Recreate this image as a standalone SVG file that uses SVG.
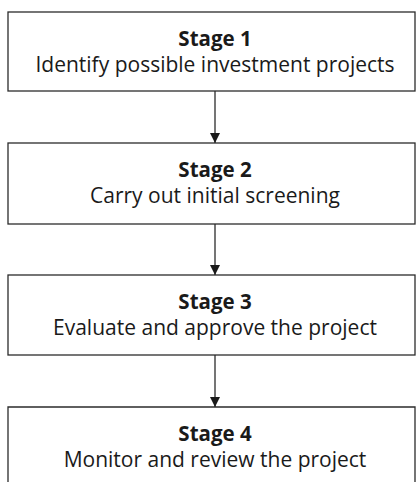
<svg xmlns="http://www.w3.org/2000/svg" width="417" height="482" viewBox="0 0 417 482">
  <style>
    .box { fill: #ffffff; stroke: #2b2b2b; stroke-width: 1.3; }
    .title { font-family: "Open Sans", "Noto Sans", sans-serif; font-size: 20.5px; font-weight: bold; fill: #1a1a1a; text-anchor: middle; }
    .desc { font-family: "Open Sans", "Noto Sans", sans-serif; font-size: 21px; fill: #1a1a1a; text-anchor: middle; }
    .link { stroke: #2b2b2b; stroke-width: 1.3; fill: none; }
  </style>
  <defs>
    <marker id="arrow" viewBox="0 0 10 10" refX="10" refY="5" markerWidth="10" markerHeight="10" markerUnits="userSpaceOnUse" orient="auto">
      <path d="M0,0 L10,5 L0,10 Z" fill="#1a1a1a"/>
    </marker>
  </defs>
  <rect width="417" height="482" fill="#ffffff"/>

  <g id="stage1">
    <rect class="box" x="8" y="12" width="407" height="79"/>
    <text class="title" x="215" y="46">Stage 1</text>
    <text class="desc" x="215" y="72">Identify possible investment projects</text>
  </g>

  <g id="stage2">
    <rect class="box" x="8" y="143" width="407" height="81"/>
    <text class="title" x="215" y="177">Stage 2</text>
    <text class="desc" x="215" y="203">Carry out initial screening</text>
  </g>

  <g id="stage3">
    <rect class="box" x="8" y="275" width="407" height="80"/>
    <text class="title" x="215" y="309">Stage 3</text>
    <text class="desc" x="215" y="335">Evaluate and approve the project</text>
  </g>

  <g id="stage4">
    <path class="box" d="M8,482 L8,407 L415,407 L415,482" />
    <text class="title" x="215" y="441">Stage 4</text>
    <text class="desc" x="215" y="467">Monitor and review the project</text>
  </g>

  <g id="connectors">
    <line class="link" x1="215" y1="91" x2="215" y2="143" marker-end="url(#arrow)"/>
    <line class="link" x1="215" y1="224" x2="215" y2="275" marker-end="url(#arrow)"/>
    <line class="link" x1="215" y1="355" x2="215" y2="407" marker-end="url(#arrow)"/>
  </g>
</svg>
